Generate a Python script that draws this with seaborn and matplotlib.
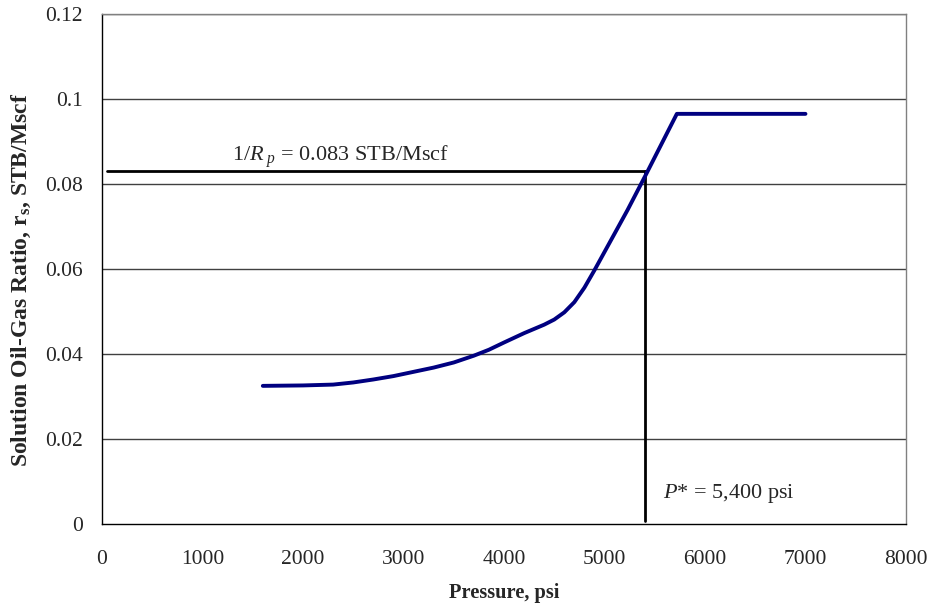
import matplotlib
matplotlib.use("Agg")
import matplotlib.pyplot as plt
import seaborn as sns
import pandas as pd

# Solution oil-gas ratio vs pressure
pressure = [1600, 2000, 2300, 2500, 2700, 2900, 3100, 3300, 3500, 3700,
            3850, 4000, 4100, 4200, 4300, 4400, 4500, 4600, 4700, 4800,
            4900, 5000, 5100, 5230, 5410, 5720, 7000]
rs = [0.0325, 0.0326, 0.0328, 0.0333, 0.0340, 0.0348, 0.0358, 0.0368, 0.0380,
      0.0396, 0.0410, 0.0427, 0.0438, 0.0449, 0.0459, 0.0469, 0.0481, 0.0498,
      0.0522, 0.0556, 0.0597, 0.0640, 0.0683, 0.0739, 0.0821, 0.0965, 0.0965]

inv_rp = 0.083        # 1/Rp, STB/Mscf
p_star = 5400         # psi
hline_start = 50

x_ticks = [0, 1000, 2000, 3000, 4000, 5000, 6000, 7000, 8000]
y_ticks = [0, 0.02, 0.04, 0.06, 0.08, 0.10, 0.12]
y_tick_labels = ["0", "0.02", "0.04", "0.06", "0.08", "0.1", "0.12"]

sns.set_style("white")
plt.rcParams["font.family"] = ["Liberation Serif", "DejaVu Serif"]
plt.rcParams["mathtext.fontset"] = "custom"
plt.rcParams["mathtext.rm"] = "Liberation Serif"
plt.rcParams["mathtext.it"] = "Liberation Serif:italic"
plt.rcParams["mathtext.bf"] = "Liberation Serif:bold"

df = pd.DataFrame({"Pressure": pressure, "rs": rs})

fig = plt.figure(figsize=(9.31, 6.13), dpi=100)
ax = fig.add_axes([0.1096, 0.1452, 0.8635, 0.832])

for yv in y_ticks[1:]:
    ax.axhline(yv, color="#404040", lw=1.0, zorder=1)

sns.lineplot(data=df, x="Pressure", y="rs", ax=ax, color="#000080",
             lw=2.8, sort=False, zorder=3)

ax.plot([hline_start, p_star], [inv_rp, inv_rp], color="black", lw=2.0, zorder=2)
ax.plot([p_star, p_star], [inv_rp, 0.0007], color="black", lw=2.0, zorder=2)

ax.text(1290, 0.0863, r"1/$R_{\ p}$ = 0.083 STB/Mscf",
        fontsize=16, ha="left", va="center")
ax.text(5585, 0.0071, r"$P$* = 5,400 psi", fontsize=16, ha="left", va="center")

ax.set_xlim(0, 8000)
ax.set_ylim(0, 0.12)
ax.set_xticks(x_ticks)
ax.set_xticklabels([str(v) for v in x_ticks])
ax.set_yticks(y_ticks)
ax.set_yticklabels(y_tick_labels)
ax.tick_params(axis="both", direction="out", length=6, width=1, color="black",
               labelsize=15.5)
ax.tick_params(axis="x", pad=13)
ax.tick_params(axis="y", pad=8)

ax.set_xlabel("Pressure, psi", fontsize=14.7, fontweight="bold", labelpad=10)
ax.set_ylabel(r"Solution Oil-Gas Ratio, r$_\mathbf{s}$, STB/Mscf", fontsize=17,
              fontweight="bold")
ax.yaxis.set_label_coords(-0.0855, 0.478)

for side in ["left", "bottom"]:
    ax.spines[side].set_color("black")
    ax.spines[side].set_linewidth(1.0)
for side in ["top", "right"]:
    ax.spines[side].set_color("#808080")
    ax.spines[side].set_linewidth(1.0)

fig.savefig("out.png", dpi=100)
